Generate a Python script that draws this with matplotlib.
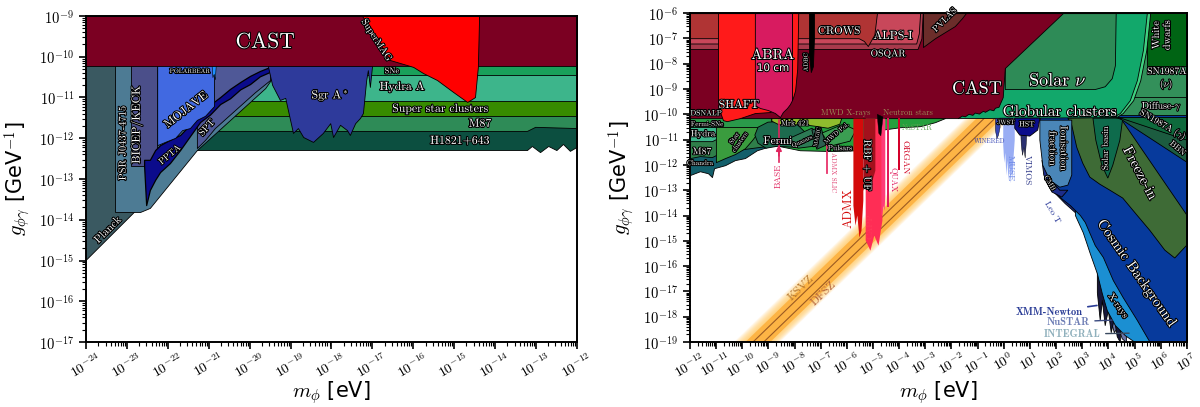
import numpy as np
import matplotlib
matplotlib.use("Agg")
import matplotlib.pyplot as plt
import matplotlib.patheffects as path_effects
from matplotlib.ticker import LogLocator, FuncFormatter, NullFormatter

plt.rcParams['mathtext.fontset'] = 'cm'
plt.rcParams['font.family'] = ['DejaVu Sans']

# ---------------- left panel (ultralight), log10 values ----------------
planck_lm = [-24, -12]
planck_lg = [-15, -3]
h1821_lm = [-21.29, -13.22, -13.10, -12.90, -12.70, -12.50, -12.34, -12.17, -12.0]
h1821_lg = [-12.29, -12.29, -12.19, -12.34, -12.19, -12.29, -12.14, -12.31, -12.21]
m87_lm = [-20.85, -13.22, -13.02, -12.0]
m87_lg = [-11.82, -11.82, -11.72, -11.75]
ssc_lm = [-20.36, -12.0]
ssc_lg = [-11.45, -11.45]
hydra_lm = [-19.95, -12.0]
hydra_lg = [-11.09, -11.09]
sne_lm = [-19.3, -12.0]
sne_lg = [-10.45, -10.45]
psr_lm = [-23.29, -22.68, -22.44, -21.29, -19.62, -19.26]
psr_lg = [-13.81, -13.81, -13.71, -12.29, -10.77, -10.25]
bicep_lm = [-22.90, -22.26]
bicep_lg = [-12.68, -12.68]
spt_lm = [-21.29, -21.09, -20.85, -20.36, -19.87, -19.50]
spt_lg = [-12.24, -12.04, -11.75, -11.31, -10.87, -10.57]
ppta_lm = [-22.58, -22.53, -22.44, -22.31, -22.19, -21.95, -21.70, -21.46, -21.21,
           -20.97, -20.72, -20.48, -20.23, -19.99, -19.75, -19.50, -19.26]
ppta_lo = [-12.68, -13.64, -13.27, -13.02, -12.83, -12.61, -12.29, -11.95, -11.60,
           -11.42, -11.16, -11.02, -10.80, -10.67, -10.48, -10.37, -10.25]
ppta_hi = [-12.53, -12.53, -12.53, -12.29, -12.17, -12.04, -11.92, -11.67, -11.43,
           -11.18, -10.99, -10.79, -10.62, -10.47, -10.35, -10.25, -10.25]
mojave_lm = [-22.26, -22.07, -21.82, -21.65, -21.46, -21.29, -21.09, -20.87]
mojave_lg = [-12.17, -12.09, -11.99, -11.80, -11.75, -11.55, -11.45, -11.21]
polarbear_lm = [-20.93, -20.91, -20.88, -20.85, -20.83]
polarbear_lg = [-10.22, -10.50, -10.42, -10.55, -10.22]
sgra_lm = [-19.55, -19.45, -19.26, -19.13, -18.94, -18.82, -18.69, -18.45, -18.21, -18.03, -17.96,
           -17.79, -17.62, -17.55, -17.42, -17.30, -17.23, -17.15, -17.11, -17.06, -17.01]
sgra_lg = [-10.25, -10.69, -11.06, -11.01, -11.87, -11.75, -11.97, -12.09, -11.87, -11.63, -11.97,
           -11.67, -11.80, -11.92, -11.63, -11.50, -11.38, -10.57, -10.33, -10.74, -10.25]
cast_lm = [-24, -12]
cast_lg = [-10.22, -10.22]
supermag_lm = [-17.25, -16.93, -16.57, -16.0, -15.76, -15.42, -15.03, -14.68, -14.49, -14.42, -14.39]
supermag_lg = [-9.0, -9.47, -10.08, -10.25, -10.40, -10.57, -10.86, -11.11, -10.99, -10.25, -9.0]

# ---------------- right panel, log10 values ----------------
qcd_lm = [-12, 7]
ksvz_lg = [-21.41, -2.41]
dfsz_lg = [-21.82, -2.82]
qcd_core_hi = [-21.12, -2.12]
qcd_core_lo = [-22.07, -3.07]
qcd_glow_hi = [-20.68, -1.68]
qcd_glow_lo = [-22.44, -3.44]

r_cast_lm = [-12, -1.76, -1.6, -1.49, -1.35, -1.2, -1.11, -0.95, -0.8, -0.72, -0.55, -0.4,
             -0.34, -0.2, -0.04, 0.04, 2.26]
r_cast_lg = [-10.15, -10.15, -10.05, -10.08, -9.98, -10.02, -9.93, -9.97, -9.86, -9.9, -9.8,
             -9.84, -9.74, -9.7, -9.32, -8.17, -6.0]
osqar_lm = [-12, -3.3, -3.15, -3.1]
osqar_lg = [-7.42, -7.42, -7.0, -6.0]
alps_lm = [-12, -3.35, -3.25, -3.2]
alps_lg = [-7.2, -7.2, -6.8, -6.0]
crows_lm = [-12, -5.55, -5.35, -5.2, -4.95, -4.85]
crows_lg = [-6.99, -6.99, -7.1, -7.3, -6.85, -6.0]
pvlas_lm = [-3.09, -2.63, -2.25, -1.87, -1.60, -1.45]
pvlas_lg = [-7.34, -6.99, -6.75, -6.51, -6.20, -6.0]
shaft_lm = [-10.93, -10.85, -10.74, -10.59, -10.09, -9.52, -8.94, -8.83]
shaft_lg = [-9.44, -9.91, -10.23, -10.27, -10.15, -9.95, -9.91, -9.83]
abra_lm = [-9.52, -9.32, -9.02, -8.75, -8.56, -8.45, -8.29, -8.18, -8.10]
abra_lg = [-9.64, -9.75, -9.83, -9.95, -10.11, -9.91, -9.75, -9.60, -9.44]
abra2_lm = [-8.10, -8.05, -7.98, -7.90, -7.86]
abra2_lg = [-9.44, -9.30, -9.05, -8.2, -6.0]
adbc_lm = [-7.45, -7.38, -7.30, -7.26]
adbc_lg = [-7.6, -8.33, -8.1, -7.0]

pulsars_lm = [-8.56, -7.80, -6.65, -5.50, -4.74, -3.97, -3.21, -2.63, -2.25]
pulsars_lg = [-11.26, -11.42, -11.45, -11.42, -10.62, -10.51, -10.47, -10.31, -10.15]
chandra_lm = [-12, -11.62, -11.31, -11.16, -11.08, -10.66, -10.28, -9.90, -9.44, -8.94, -8.56]
chandra_lg = [-12.40, -12.25, -12.33, -12.48, -12.13, -12.01, -11.81, -11.73, -11.42, -11.26, -11.22]
r_m87_lm = [-12, -11.62, -11.16, -10.78, -10.28, -9.71, -9.13]
r_m87_lg = [-11.73, -11.65, -11.69, -11.49, -11.42, -11.34, -11.26]
r_hydra_lm = [-12, -11.16, -10.93, -10.78]
r_hydra_lg = [-11.06, -11.06, -10.94, -10.74]
starcl_lm = [-11.01, -10.66, -10.28, -9.90, -9.63, -9.40, -9.21]
starcl_lg = [-11.89, -11.73, -11.57, -11.34, -11.02, -10.70, -10.51]
fermisne_lm = [-12, -8.9]
fermisne_lg = [-10.51, -10.51]
fermi_lm = [-9.52, -9.40, -9.02, -8.37, -7.87, -7.57, -7.72, -8.10, -8.64, -9.09, -9.40]
fermi_lg = [-10.82, -10.51, -10.31, -10.27, -10.43, -10.74, -11.14, -11.30, -11.26, -11.34, -11.14]
mrk_lm = [-8.87, -6.19, -6.27, -6.72, -7.22, -7.80, -8.25, -8.64, -8.87]
mrk_lg = [-10.15, -10.15, -10.39, -10.55, -10.47, -10.39, -10.47, -10.39, -10.27]
quasars_lm = [-8.18, -7.34, -7.03, -7.26, -7.87]
quasars_lg = [-10.94, -10.55, -10.78, -11.26, -11.34]
magic_lm = [-7.34, -6.99, -6.80, -7.15]
magic_lg = [-10.62, -10.51, -11.22, -11.38]
mwd_lm = [-6.95, -6.15, -5.65, -5.88, -6.65]
mwd_lg = [-10.74, -10.39, -10.62, -11.06, -11.26]

admx_lm = [-5.77, -5.77, -5.69, -5.62, -5.54, -5.46, -5.39, -5.39]
admx_lg = [-10.15, -13.59, -14.38, -13.98, -14.85, -14.58, -13.39, -10.15]
rbf_lm = [-5.39, -5.39, -5.27, -5.16, -5.04, -4.93, -4.93]
rbf_lg = [-10.15, -13.0, -12.80, -13.0, -12.60, -12.21, -10.15]
capp_lm = [-5.30, -5.30, -5.12, -4.97, -4.81, -4.66, -4.66]
capp_lg = [-10.15, -14.97, -15.37, -14.77, -15.17, -14.18, -10.15]
haystac_lm = [-4.70, -4.70, -4.66, -4.62, -4.58, -4.55, -4.55]
haystac_lg = [-10.15, -14.0, -13.9, -13.6, -13.8, -13.2, -10.15]
sidecar_lm = [-4.84, -4.78, -4.70, -4.62]
sidecar_lg = [-10.0, -10.75, -10.85, -10.1]
quax_lm = [-4.46, -4.46, -4.40, -4.40]
quax_lg = [-10.6, -13.67, -13.67, -10.6]
organ_lm = [-4.05, -4.05, -3.97, -3.97]
organ_lg = [-10.6, -12.21, -12.21, -10.6]
slic_lm = [-6.76, -6.76]
slic_lg = [-11.22, -12.32]
base_lm = [-8.60, -8.60]
base_lg = [-10.23, -11.89]

hst_lm = [0.42, 1.38, 1.30, 0.997, 0.61, 0.42]
hst_lg = [-10.15, -10.15, -10.62, -10.86, -10.82, -10.55]
jwst_lm = [-0.15, 0.35, 0.29, -0.11]
jwst_lg = [-10.15, -10.15, -10.39, -10.39]
muse_lm = [-0.04, 0.0, 0.04, 0.08, 0.12, 0.16, 0.20, 0.24, 0.28, 0.32, 0.36, 0.40]
muse_lg = [-11.2, -11.9, -11.5, -12.4, -11.8, -12.6, -12.0, -12.7, -12.2, -12.5, -11.6, -11.0]
vimos_lm = [0.61, 0.65, 0.70, 0.75, 0.80, 0.85, 0.88]
vimos_lg = [-10.15, -11.2, -11.6, -11.3, -11.7, -11.0, -10.15]
winered_lm = [-0.34, -0.28, -0.22, -0.16]
winered_lg = [-10.6, -10.95, -10.8, -10.5]

integral_lm = [4.59, 4.82, 5.05, 5.28]
integral_lg = [-18.45, -18.77, -18.85, -19.0]
nustar_lm = [4.06, 4.21, 4.36, 4.51, 4.67]
nustar_lg = [-18.06, -18.61, -18.37, -18.85, -19.0]
xmm_lm = [3.56, 3.67, 3.75, 3.86, 3.98, 4.09, 4.21, 4.32, 4.44]
xmm_lg = [-17.03, -18.13, -17.34, -18.33, -17.74, -18.61, -18.06, -18.77, -19.0]
leot_lm = [1.46, 1.61, 1.95, 2.33, 2.72, 3.10, 3.48, 3.67]
leot_lg = [-11.42, -12.40, -13.11, -13.51, -13.87, -14.34, -15.17, -15.76]
xrays_lm = [2.72, 3.02, 3.29, 3.56, 3.75, 3.94, 4.25, 4.63, 5.01, 7.0]
xrays_lg = [-13.98, -14.66, -15.49, -16.28, -17.07, -17.74, -18.33, -18.73, -19.0, -19.0]
cosmic_lm = [1.38, 1.57, 1.76, 2.14, 2.53, 2.91, 3.10, 3.48, 3.79, 4.17, 4.55, 5.09, 5.58, 7.0]
cosmic_lg = [-10.23, -11.81, -12.80, -13.27, -13.59, -13.98, -14.26, -15.17, -15.64, -16.55,
             -17.23, -18.13, -19.0, -19.0]
freeze_lm = [2.45, 4.44, 7.0, 7.0, 6.54, 6.16, 5.58, 5.09, 4.55, 4.06, 3.67, 3.29, 3.02, 2.79, 2.60]
freeze_lg = [-10.15, -10.11, -13.98, -15.17, -15.68, -15.37, -14.58, -13.98, -13.31, -13.0,
             -12.76, -12.48, -11.93, -11.30, -10.43]
basin_lm = [3.41, 4.55, 4.44, 4.17, 3.98, 3.75, 3.52]
basin_lg = [-10.15, -10.15, -11.02, -12.01, -12.52, -12.01, -11.02]
ionis_lm = [1.38, 2.60, 2.60, 2.45, 2.14, 1.76, 1.49, 1.38]
ionis_lg = [-10.23, -10.23, -12.40, -12.80, -12.88, -12.60, -12.01, -11.02]
cmb_lm = [1.46, 1.76, 2.14, 2.45, 2.22, 1.84, 1.53]
cmb_lg = [-11.81, -12.52, -13.0, -13.0, -13.27, -13.07, -12.40]
sngam_lm = [4.25, 7.0, 7.0]
sngam_lg = [-10.11, -10.11, -11.02]
bbn_lm = [4.36, 7.0, 7.0]
bbn_lg = [-10.11, -11.02, -11.89]
diffuse_lm = [4.4, 7.0]
diffuse_lg = [-10.03, -10.03]
snnu_lm = [4.8, 7.0]
snnu_lg = [-9.32, -9.32]
wd_lm = [5.47, 7.0]
wd_lg = [-8.09, -8.09]
rparam_lm = [4.30, 4.55, 4.95, 5.22, 5.45, 5.60]
rparam_lg = [-10.11, -9.95, -9.44, -8.65, -7.46, -6.0]
gc_lm = [-1.76, 4.17, 4.44, 4.82, 5.09, 5.32, 5.47]
gc_lg = [-10.15, -10.11, -9.95, -9.44, -8.65, -7.46, -6.0]
solar_lm = [0.04, 3.48, 3.86, 4.13, 4.25, 4.28]
solar_lg = [-9.0, -9.0, -8.89, -8.57, -8.06, -6.0]

stroke = [path_effects.withStroke(linewidth=1.5, foreground='k')]


def lim(ax, lm, lg, c, top, lw=0.6, ec='k', alpha=1.0):
    ax.fill_between(10.0 ** np.array(lm), 10.0 ** np.array(lg), top,
                    facecolor=c, edgecolor=ec, lw=lw, alpha=alpha)


def band(ax, lm, lg, g2, c, lw=0.5, alpha=1.0):
    ax.fill_between(10.0 ** np.array(lm), 10.0 ** np.array(lg), 10.0 ** g2,
                    facecolor=c, edgecolor='k', lw=lw, alpha=alpha)


def poly(ax, lm, lg, c, lw=0.6):
    ax.fill(10.0 ** np.array(lm), 10.0 ** np.array(lg), facecolor=c, edgecolor='k', lw=lw)


def lab(ax, lm, lg, s, fs, rot=0, c='w', st=True, fam='cmr10'):
    ax.text(10.0 ** lm, 10.0 ** lg, s, fontsize=fs, rotation=rot, color=c,
            ha='center', va='center', rotation_mode='anchor', fontfamily=fam,
            path_effects=stroke if st else None)


def tenpow(v, pos):
    return r'$10^{%d}$' % int(round(np.log10(v)))


def style(ax, xl, yl):
    ax.set_xscale('log')
    ax.set_yscale('log')
    ax.set_xlim(10.0 ** xl[0], 10.0 ** xl[1])
    ax.set_ylim(10.0 ** yl[0], 10.0 ** yl[1])
    for a in (ax.xaxis, ax.yaxis):
        a.set_major_locator(LogLocator(base=10, numticks=60))
        a.set_minor_locator(LogLocator(base=10, subs=np.arange(2, 10), numticks=600))
        a.set_major_formatter(FuncFormatter(tenpow))
        a.set_minor_formatter(NullFormatter())
    ax.tick_params(which='major', length=5, width=1.2, labelsize=10.5)
    ax.tick_params(which='minor', length=3, width=0.8)
    ax.tick_params(axis='x', labelrotation=30, labelsize=10, pad=1)
    for s in ax.spines.values():
        s.set_linewidth(1.4)
    ax.set_xlabel(r'$m_\phi$ [eV]', fontsize=15, labelpad=-1)
    ax.set_ylabel(r'$g_{\phi\gamma}$ [GeV$^{-1}$]', fontsize=15, labelpad=4)


fig = plt.figure(figsize=(12, 4.07), dpi=100)
ax1 = fig.add_axes([0.0717, 0.1597, 0.409, 0.801])
ax2 = fig.add_axes([0.575, 0.1597, 0.414, 0.808])

# ======================= left panel =======================
T1 = 1e-9
lim(ax1, planck_lm, planck_lg, '#3a5961', T1)
lim(ax1, h1821_lm, h1821_lg, '#0c4f40', T1)
lim(ax1, m87_lm, m87_lg, '#2e8b57', T1)
lim(ax1, ssc_lm, ssc_lg, '#378b00', T1)
lim(ax1, hydra_lm, hydra_lg, '#3db58b', T1)
lim(ax1, sne_lm, sne_lg, '#19a05a', T1)
lim(ax1, psr_lm, psr_lg, '#4d7b94', T1)
lim(ax1, bicep_lm, bicep_lg, '#4b4f8a', T1)
lim(ax1, spt_lm, spt_lg, '#4f5897', T1)
band(ax1, ppta_lm, ppta_lo, np.array(ppta_hi), '#0b0b8c', lw=0.9)
lim(ax1, mojave_lm, mojave_lg, '#4169e1', T1)
lim(ax1, polarbear_lm, polarbear_lg, '#1e90ff', T1, lw=0.4)
lim(ax1, sgra_lm, sgra_lg, '#2e3a9b', T1)
lim(ax1, cast_lm, cast_lg, '#7b0022', T1)
lim(ax1, supermag_lm, supermag_lg, '#ff0000', T1)

lab(ax1, -19.62, -9.64, 'CAST', 15.5)
lab(ax1, -16.91, -9.59, 'SuperMAG', 7, rot=-57)
lab(ax1, -16.52, -10.35, 'SNe', 6)
lab(ax1, -16.27, -10.74, 'Hydra A', 8.5)
lab(ax1, -15.34, -11.28, 'Super star clusters', 8.5)
lab(ax1, -14.37, -11.65, 'M87', 8.5)
lab(ax1, -14.86, -12.07, 'H1821+643', 8.5)
lab(ax1, -18.03, -10.94, r'Sgr A$^*$', 8.5)
lab(ax1, -21.55, -11.31, 'MOJAVE', 8.5, rot=38)
lab(ax1, -22.75, -11.67, 'BICEP/KECK', 8.5, rot=90)
lab(ax1, -23.10, -12.12, 'PSR J0437-4715', 7.5, rot=90)
lab(ax1, -21.95, -12.41, 'PPTA', 6.5, rot=40)
lab(ax1, -21.04, -11.75, 'SPT', 7, rot=48)
lab(ax1, -21.46, -10.35, 'POLARBEAR', 4.5)
lab(ax1, -23.46, -14.25, 'Planck', 8, rot=45)

style(ax1, (-24, -12), (-17, -9))

# ======================= right panel =======================
T2 = 1e-6
m = 10.0 ** np.array(qcd_lm)
for f in np.linspace(0, 1, 14)[1:]:
    hi = np.array(qcd_core_hi) + f * (np.array(qcd_glow_hi) - np.array(qcd_core_hi))
    lo = np.array(qcd_core_lo) + f * (np.array(qcd_glow_lo) - np.array(qcd_core_lo))
    ax2.fill_between(m, 10.0 ** lo, 10.0 ** hi, color='#ffc85a', alpha=0.09, lw=0, zorder=0.5)
ax2.fill_between(m, 10.0 ** np.array(qcd_core_lo), 10.0 ** np.array(qcd_core_hi),
                 color='#fdb445', lw=0, zorder=0.6)
ax2.plot(m, 10.0 ** np.array(ksvz_lg), color='#9b5a22', lw=0.8, zorder=0.7)
ax2.plot(m, 10.0 ** np.array(dfsz_lg), color='#9b5a22', lw=0.8, zorder=0.7)
lab(ax2, -7.75, -16.87, 'KSVZ', 8.5, rot=44, c='#b5762e', st=False)
lab(ax2, -6.88, -17.07, 'DFSZ', 8.5, rot=44, c='#b0603a', st=False)

# high-mass corner
lim(ax2, integral_lm, integral_lg, '#7fa3ad', T2)
lim(ax2, nustar_lm, nustar_lg, '#6b75a8', T2)
lim(ax2, xmm_lm, xmm_lg, '#16163a', T2)
lim(ax2, leot_lm, leot_lg, '#1c2a80', T2)
lim(ax2, xrays_lm, xrays_lg, '#1b8fd2', T2)
lim(ax2, cosmic_lm, cosmic_lg, '#073a9c', T2)
poly(ax2, freeze_lm, freeze_lg, '#3e6b36')
poly(ax2, basin_lm, basin_lg, '#0e6b4c')
poly(ax2, cmb_lm, cmb_lg, '#1d2d8a')
poly(ax2, ionis_lm, ionis_lg, '#4a86b8')
poly(ax2, sngam_lm, sngam_lg, '#0e6a3c')
poly(ax2, bbn_lm, bbn_lg, '#1c5c40')
lim(ax2, diffuse_lm, diffuse_lg, '#33905a', T2)
lim(ax2, snnu_lm, snnu_lg, '#33905a', T2)
lim(ax2, wd_lm, wd_lg, '#006414', T2)
lim(ax2, rparam_lm, rparam_lg, '#40d080', T2)
lim(ax2, gc_lm, gc_lg, '#12a86b', T2)
lim(ax2, solar_lm, solar_lg, '#2e8b57', T2)

# telescopes
G = -10.15
band(ax2, muse_lm, muse_lg, G, '#5577ee', lw=0, alpha=0.6)
band(ax2, vimos_lm, vimos_lg, G, '#2a3070', lw=0.3)
band(ax2, winered_lm, winered_lg, G, '#3545b5', lw=0.3)
poly(ax2, hst_lm, hst_lg, '#0b0d8c')
poly(ax2, jwst_lm, jwst_lg, '#141450', lw=0.3)

# astrophysical stack at low mass
lim(ax2, pulsars_lm, pulsars_lg, '#25a03d', T2)
lim(ax2, chandra_lm, chandra_lg, '#135f6b', T2)
lim(ax2, r_m87_lm, r_m87_lg, '#2f7f4a', T2)
lim(ax2, r_hydra_lm, r_hydra_lg, '#3cb58a', T2)
lim(ax2, starcl_lm, starcl_lg, '#3a9c3e', T2)
lim(ax2, fermisne_lm, fermisne_lg, '#2a9a4a', T2)
poly(ax2, fermi_lm, fermi_lg, '#1d6b4e')
poly(ax2, mrk_lm, mrk_lg, '#8fbd2e')
poly(ax2, quasars_lm, quasars_lg, '#2d7a55')
poly(ax2, magic_lm, magic_lg, '#2e5e50')
poly(ax2, mwd_lm, mwd_lg, '#3b9e52')

# helioscopes / light shining through walls
lim(ax2, r_cast_lm, r_cast_lg, '#7b0022', T2)
lim(ax2, osqar_lm, osqar_lg, '#a83a4c', T2)
lim(ax2, alps_lm, alps_lg, '#c8475a', T2)
lim(ax2, crows_lm, crows_lg, '#b03434', T2)
lim(ax2, pvlas_lm, pvlas_lg, '#6b2d2a', T2)

# haloscopes
lim(ax2, shaft_lm, shaft_lg, '#ff1a1a', T2)
lim(ax2, abra_lm, abra_lg, '#d81b60', T2)
lim(ax2, abra2_lm, abra2_lg, '#ff1a1a', T2)
lim(ax2, adbc_lm, adbc_lg, '#000000', T2)
band(ax2, capp_lm, capp_lg, G, '#ff2d55', lw=0)
band(ax2, admx_lm, admx_lg, G, '#d40a0a', lw=0)
band(ax2, rbf_lm, rbf_lg, G, '#a3111c', lw=0)
band(ax2, haystac_lm, haystac_lg, G, '#ff3a78', lw=0)
band(ax2, quax_lm, quax_lg, G, '#e0185a', lw=0)
band(ax2, organ_lm, organ_lg, G, '#d4002a', lw=0)
poly(ax2, sidecar_lm, sidecar_lg, '#000000', lw=0.3)
ax2.plot(10.0 ** np.array(slic_lm), 10.0 ** np.array(slic_lg), color='#e8336b', lw=1.3)
ax2.plot(10.0 ** np.array(base_lm), 10.0 ** np.array(base_lg), color='#e0245e', lw=1.2)
ax2.annotate('', xy=(10.0 ** base_lm[0], 10.0 ** -11.1), xytext=(10.0 ** base_lm[0], 10.0 ** -11.75),
             arrowprops=dict(arrowstyle='-|>', color='#e0245e', lw=1.2, mutation_scale=8))

# labels, right panel
lab(ax2, -1.03, -9.0, 'CAST', 13)
lab(ax2, 2.07, -8.65, r'Solar $\nu$', 13)
lab(ax2, 2.14, -9.91, 'Globular clusters', 11)
lab(ax2, 6.04, -6.87, 'White\ndwarfs', 7.5, rot=90)
lab(ax2, 6.23, -8.61, 'SN1987A\n' + r'($\nu$)', 7)
lab(ax2, 6.04, -9.72, r'Diffuse-$\gamma$', 7)
lab(ax2, 6.08, -10.43, r'SN1987A ($\gamma$)', 6.5, rot=-30)
lab(ax2, 6.65, -11.34, 'BBN', 6, rot=-40)
lab(ax2, 5.20, -12.32, 'Freeze-in', 10.5, rot=-62)
lab(ax2, 5.09, -16.28, 'Cosmic Background', 10.5, rot=-55)
lab(ax2, 4.36, -17.58, 'X-rays', 7, rot=-55)
lab(ax2, 2.07, -11.34, 'Ionisation\nfraction', 7.5, rot=-90)
lab(ax2, 1.76, -12.72, 'CMB', 5, rot=-60)
lab(ax2, 3.90, -11.34, 'Solar basin', 6.5, rot=90)
lab(ax2, 1.84, -13.87, 'Leo T', 6.5, rot=-60, c='#2a3a9a', st=False)
lab(ax2, 0.88, -10.39, 'HST', 5.5)
lab(ax2, 0.08, -10.31, 'JWST', 4.5)
lab(ax2, 0.23, -12.13, 'MUSE', 6.5, rot=-90, c='#6a86e6', st=False)
lab(ax2, 0.88, -12.20, 'VIMOS', 6.5, rot=-90, c='#303a8a', st=False)
lab(ax2, -0.55, -11.06, 'WINERED', 4.5, c='#3545b5', st=False)

ax2.annotate('XMM-Newton', xy=(10.0 ** 3.67, 10.0 ** -17.54), xytext=(10.0 ** 1.72, 10.0 ** -17.82),
             fontsize=7.5, color='#2a3c96', ha='center', va='center', fontfamily='cmb10',
             arrowprops=dict(arrowstyle='-', color='#2a3c96', lw=1.2))
ax2.annotate('NuSTAR', xy=(10.0 ** 4.25, 10.0 ** -18.13), xytext=(10.0 ** 2.45, 10.0 ** -18.21),
             fontsize=7.5, color='#6c7cb4', ha='center', va='center', fontfamily='cmb10',
             arrowprops=dict(arrowstyle='-', color='#3a4a80', lw=1.0))
ax2.annotate('INTEGRAL', xy=(10.0 ** 4.90, 10.0 ** -18.65), xytext=(10.0 ** 2.60, 10.0 ** -18.69),
             fontsize=7.5, color='#8fb0bc', ha='center', va='center', fontfamily='cmb10',
             arrowprops=dict(arrowstyle='-', color='#3a4a60', lw=1.0))

lab(ax2, -6.30, -6.71, 'CROWS', 8)
lab(ax2, -4.24, -6.91, 'ALPS-I', 8.5)
lab(ax2, -4.43, -7.62, 'OSQAR', 7)
lab(ax2, -2.25, -6.28, 'PVLAS', 6.5, rot=45)
lab(ax2, -10.13, -9.64, 'SHAFT', 8.5)
lab(ax2, -8.83, -7.66, 'ABRA', 10.5)
lab(ax2, -8.83, -8.17, '10 cm', 7.5, fam='DejaVu Sans')
lab(ax2, -7.57, -7.94, 'ADBC', 4.5, rot=90)
lab(ax2, -11.39, -9.95, 'DSNALP', 5.5)
lab(ax2, -6.05, -9.95, 'MWD X-rays', 6, c='#9a8a55', st=False)
lab(ax2, -3.65, -9.95, 'Neutron stars', 6, c='#9a8a55', st=False)
lab(ax2, -3.32, -10.55, 'NuSTAR', 5.5, c='#5aa050', st=False)
lab(ax2, -11.35, -10.39, 'Fermi-SNe', 5)
lab(ax2, -11.50, -10.78, 'Hydra', 6.5)
lab(ax2, -11.54, -11.49, 'M87', 7)
lab(ax2, -11.62, -11.93, 'Chandra', 5)
lab(ax2, -10.20, -11.02, 'Star\nclusters', 5, rot=55)
lab(ax2, -8.64, -11.06, 'Fermi', 8)
lab(ax2, -7.99, -10.35, 'Mrk 421', 5.5)
lab(ax2, -7.72, -11.06, 'Quasars', 4.5, rot=25)
lab(ax2, -7.15, -10.90, 'MAGIC', 4, rot=80)
lab(ax2, -6.40, -10.74, 'MWD Pol.', 4.5, rot=40)
lab(ax2, -6.27, -11.33, 'Pulsars', 5.5)
lab(ax2, -5.92, -13.71, 'ADMX', 9, rot=90, c='#d40a0a', st=False)
lab(ax2, -5.23, -12.01, 'RBF + UF', 7.5, rot=-90)
lab(ax2, -5.12, -14.42, 'CAPP', 6.5, rot=90, c='#ff3a5a', st=False)
lab(ax2, -4.24, -12.60, 'QUAX', 6, rot=-90, c='#e0185a', st=False)
lab(ax2, -3.78, -11.69, 'ORGAN', 6.5, rot=-90, c='#d00020', st=False)
lab(ax2, -6.55, -12.28, 'ADMX SLIC', 5, rot=-90, c='#e04070', st=False)
lab(ax2, -8.60, -12.45, 'BASE', 6.5, rot=90, c='#e0245e', st=False)

style(ax2, (-12, 7), (-19, -6))

fig.savefig('out.png', dpi=100)
